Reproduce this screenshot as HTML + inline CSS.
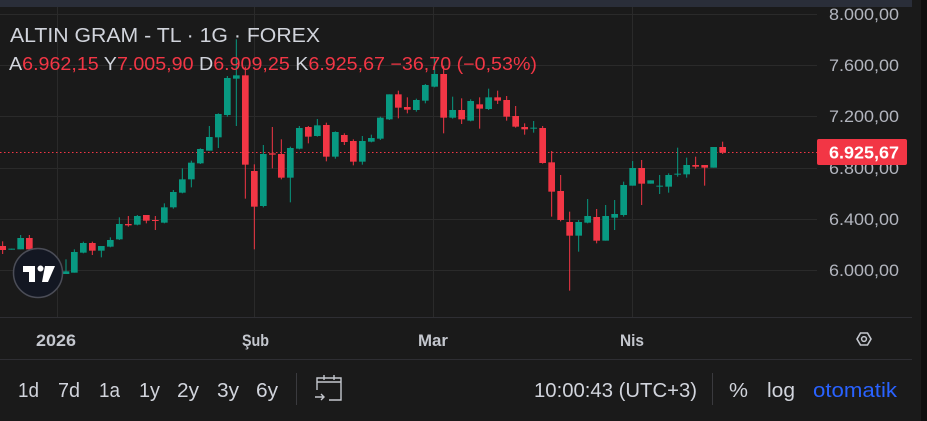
<!DOCTYPE html>
<html><head><meta charset="utf-8"><style>
html,body{margin:0;padding:0;background:#1a1a1a;width:927px;height:421px;overflow:hidden}
svg{display:block}
text{font-family:"Liberation Sans","DejaVu Sans",sans-serif}
</style></head><body>
<svg id="s" width="927" height="421" viewBox="0 0 927 421" xmlns="http://www.w3.org/2000/svg">
<rect width="927" height="421" fill="#1a1a1a"/>
<rect x="921" y="0" width="6" height="421" fill="#0f0f0f"/>
<rect x="0" y="0" width="912" height="7" fill="#2a2e39"/>
<g stroke="#2a2a2a" stroke-width="1">
<line x1="0" y1="14.5" x2="817" y2="14.5"/>
<line x1="0" y1="65.5" x2="817" y2="65.5"/>
<line x1="0" y1="116.5" x2="817" y2="116.5"/>
<line x1="0" y1="168.5" x2="817" y2="168.5"/>
<line x1="0" y1="219.5" x2="817" y2="219.5"/>
<line x1="0" y1="270.5" x2="817" y2="270.5"/>
<line x1="57.5" y1="7" x2="57.5" y2="317"/>
<line x1="254.5" y1="7" x2="254.5" y2="317"/>
<line x1="433.5" y1="7" x2="433.5" y2="317"/>
<line x1="632.5" y1="7" x2="632.5" y2="317"/>
</g>
<line x1="0" y1="317.5" x2="912" y2="317.5" stroke="#2e2e33"/>
<line x1="0" y1="359.5" x2="912" y2="359.5" stroke="#2e2e33"/>
<line x1="0" y1="152.5" x2="817" y2="152.5" stroke="#f23645" stroke-dasharray="1.5,2.5"/>
<g id="c" transform="scale(0.33333)"></g>
<g fill="#b2b5be" font-size="17" text-anchor="end" lengthAdjust="spacingAndGlyphs">
<text x="899" y="20" textLength="70" lengthAdjust="spacingAndGlyphs">8.000,00</text>
<text x="899" y="71" textLength="70" lengthAdjust="spacingAndGlyphs">7.600,00</text>
<text x="899" y="122" textLength="70" lengthAdjust="spacingAndGlyphs">7.200,00</text>
<text x="899" y="174" textLength="70" lengthAdjust="spacingAndGlyphs">6.800,00</text>
<text x="899" y="225" textLength="70" lengthAdjust="spacingAndGlyphs">6.400,00</text>
<text x="899" y="276" textLength="70" lengthAdjust="spacingAndGlyphs">6.000,00</text>
</g>
<rect x="817" y="139" width="90" height="26" rx="2" fill="#f23645"/>
<text x="899" y="158.5" fill="#fff" font-size="17.5" font-weight="bold" text-anchor="end" textLength="70" lengthAdjust="spacingAndGlyphs">6.925,67</text>
<text x="10" y="42" fill="#d1d4dc" font-size="20" textLength="310" lengthAdjust="spacingAndGlyphs">ALTIN GRAM - TL · 1G · FOREX</text>
<text x="9" y="70" font-size="18" textLength="528" lengthAdjust="spacingAndGlyphs"><tspan fill="#d1d4dc">A</tspan><tspan fill="#f23645">6.962,15 </tspan><tspan fill="#d1d4dc">Y</tspan><tspan fill="#f23645">7.005,90 </tspan><tspan fill="#d1d4dc">D</tspan><tspan fill="#f23645">6.909,25 </tspan><tspan fill="#d1d4dc">K</tspan><tspan fill="#f23645">6.925,67 −36,70 (−0,53%)</tspan></text>
<circle cx="38" cy="273" r="24.5" fill="#131722" stroke="#4b4d57" stroke-width="1.5"/>
<path d="M23 266 h12 v16 h-6 v-10 h-6z M45 266 h10 l-7 16 h-6z" fill="#fff"/>
<circle cx="40.5" cy="268.5" r="3" fill="#fff"/>
<g fill="#c4c7ce" font-size="16.5" font-weight="bold">
<text x="36" y="346" textLength="40" lengthAdjust="spacingAndGlyphs">2026</text>
<text x="242" y="346" textLength="27" lengthAdjust="spacingAndGlyphs">Şub</text>
<text x="418" y="346" textLength="30" lengthAdjust="spacingAndGlyphs">Mar</text>
<text x="620" y="346" textLength="24" lengthAdjust="spacingAndGlyphs">Nis</text>
</g>
<polygon points="857,339 860.5,333 867.5,333 871,339 867.5,345 860.5,345" fill="none" stroke="#c4c7ce" stroke-width="1.6"/>
<circle cx="864" cy="339" r="2.4" fill="none" stroke="#c4c7ce" stroke-width="1.5"/>
<g fill="#d1d4dc" font-size="20">
<text x="18" y="397" textLength="21" lengthAdjust="spacingAndGlyphs">1d</text>
<text x="58" y="397" textLength="22" lengthAdjust="spacingAndGlyphs">7d</text>
<text x="99" y="397" textLength="21" lengthAdjust="spacingAndGlyphs">1a</text>
<text x="139" y="397" textLength="21" lengthAdjust="spacingAndGlyphs">1y</text>
<text x="177" y="397" textLength="22" lengthAdjust="spacingAndGlyphs">2y</text>
<text x="217" y="397" textLength="22" lengthAdjust="spacingAndGlyphs">3y</text>
<text x="256" y="397" textLength="22" lengthAdjust="spacingAndGlyphs">6y</text>
<text x="534" y="397" textLength="163" lengthAdjust="spacingAndGlyphs">10:00:43 (UTC+3)</text>
<text x="729" y="397" textLength="19" lengthAdjust="spacingAndGlyphs">%</text>
<text x="767" y="397" textLength="28" lengthAdjust="spacingAndGlyphs">log</text>
<text x="813" y="397" fill="#2962ff" textLength="84" lengthAdjust="spacingAndGlyphs">otomatik</text>
</g>
<line x1="296.5" y1="373" x2="296.5" y2="405" stroke="#3a3a3e"/>
<line x1="712.5" y1="373" x2="712.5" y2="405" stroke="#3a3a3e"/>
<g stroke="#c4c7ce" stroke-width="1.4" fill="none">
<path d="M317 390 v-12 h24 v22 h-12"/>
<path d="M317 382 h24"/>
<path d="M324 375 v5 M334 375 v5"/>
<path d="M315 397 h9 M321 394 l3 3 l-3 3"/>
</g>
</svg>
<script>
var d=[
[8,738,750,724,762,'r'],[35,746,749,746,749,'g'],[62,714,748,705,748,'g'],[88,714,748,705,750,'r'],
[115,760,790,750,795,'g'],[142,770,800,760,805,'g'],[169,800,815,790,820,'g'],
[198,814,822,778,822,'g'],[223,756,818,748,818,'g'],[250,729,758,725,760,'g'],[277,729,752,725,765,'r'],
[304,738,752,738,772,'g'],[331,720,740,712,742,'g'],[358,672,718,652,720,'g'],[385,672,676,648,680,'r'],
[412,648,674,645,676,'g'],[439,645,662,645,670,'r'],[466,660,662,648,690,'r'],[493,622,668,610,670,'g'],
[520,576,622,570,626,'g'],[547,538,578,505,580,'g'],[574,488,538,482,562,'g'],[601,447,490,445,492,'g'],
[628,411,452,378,452,'g'],[655,342,412,340,444,'g'],[682,234,345,228,350,'g'],[709,226,236,118,378,'g'],
[736,226,494,200,596,'r'],[763,513,620,493,748,'r'],[790,462,618,435,622,'g'],[817,460,464,381,505,'r'],
[844,462,533,418,538,'r'],[871,444,533,440,607,'g'],[898,384,446,378,448,'g'],[925,381,410,378,430,'r'],
[952,376,408,357,410,'g'],[979,375,470,368,484,'r'],[1006,396,470,394,476,'g'],[1033,405,426,400,435,'r'],
[1060,423,485,418,496,'r'],[1087,423,485,408,494,'g'],[1114,414,425,404,427,'g'],[1141,353,416,350,420,'g'],
[1168,283,358,283,360,'g'],[1195,283,323,272,355,'r'],[1222,321,329,292,340,'r'],[1249,300,330,296,335,'g'],
[1276,255,302,252,310,'g']];
var e=[[14,222,260,175,262,'g'],[41,222,353,197,400,'r'],[68,330,353,290,356,'g'],[95,330,358,295,372,'r'],
[122,303,362,298,364,'g'],[149,313,326,292,386,'r'],[176,292,327,266,330,'g'],[203,292,302,272,312,'r'],
[230,300,350,288,362,'r'],[257,348,380,318,383,'r'],[284,381,388,370,404,'r'],[311,383,386,363,398,'g'],
[338,384,489,378,491,'r'],[365,487,575,453,650,'r'],[392,573,660,525,664,'r'],[419,666,707,635,872,'r'],
[446,666,707,660,755,'g'],[473,648,668,597,670,'g'],[500,651,722,627,730,'r'],[527,648,722,615,722,'g'],
[554,642,653,600,690,'g'],[581,555,645,545,650,'g'],[608,504,557,483,557,'g'],[635,504,551,480,615,'r'],
[662,541,551,541,551,'g'],[689,557,560,525,582,'g'],[716,525,560,520,578,'g'],[743,521,524,443,530,'g'],
[770,495,523,473,533,'g'],[797,495,500,470,506,'r'],[824,495,503,495,557,'r'],[851,441,503,441,503,'g'],
[878,441,458,425,462,'r']];
e.forEach(function(a){a[0]+=1290;d.push(a);});
var h='';
d.forEach(function(a){var c=a[5]=='g'?'#089981':'#f23645';
h+='<rect x="'+(a[0]-1.5)+'" y="'+a[3]+'" width="3" height="'+Math.max(3,a[4]-a[3])+'" fill="'+c+'"/>';
h+='<rect x="'+(a[0]-10)+'" y="'+a[1]+'" width="20" height="'+Math.max(3,a[2]-a[1])+'" fill="'+c+'"/>';});
document.getElementById('c').innerHTML=h;
</script>
</body></html>
